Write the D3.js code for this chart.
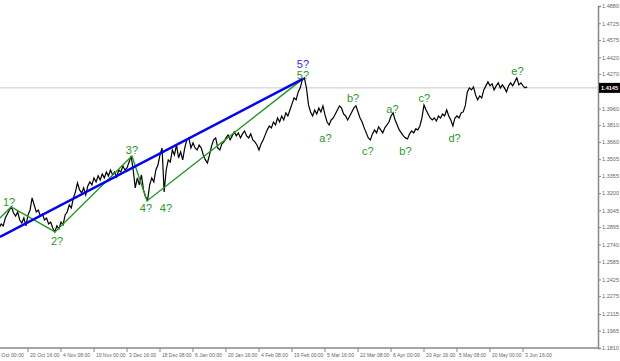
<!DOCTYPE html>
<html>
<head>
<meta charset="utf-8">
<script src="https://cdn.jsdelivr.net/npm/d3@7"></script>
<style>
  body { margin: 0; background: #fff; }
  svg { display: block; }
</style>
</head>
<body>
<div id="chart"></div>
<script>
// Bar number of the first close (bars counted from the 6 Oct 00:00 tick)
const firstBar = 2;

// Closing prices, one per bar
const closes = [
  1.2888, 1.2923, 1.2906, 1.2977, 1.3013, 1.3049, 1.3076, 1.3022, 1.2995, 1.3031, 1.2959, 1.2932, 1.2977, 1.2906,
  1.3004, 1.3049, 1.3157, 1.3094, 1.3031, 1.3049, 1.2995, 1.3013, 1.2959, 1.2977, 1.2923, 1.2941, 1.2888, 1.2852, 1.2906, 1.2879,
  1.2941, 1.2915, 1.3004, 1.3031, 1.3094, 1.3067, 1.3157, 1.3211, 1.3292, 1.3229, 1.3202, 1.3247, 1.3184, 1.3265, 1.3301, 1.3274,
  1.3337, 1.3301, 1.3355, 1.3319, 1.3372, 1.3337, 1.3390, 1.3355, 1.3408, 1.3364, 1.3390, 1.3346, 1.3408, 1.3390, 1.3444, 1.3408,
  1.3426, 1.3480, 1.3534, 1.3408, 1.3247, 1.3337, 1.3274, 1.3364, 1.3229, 1.3166, 1.3139, 1.3274, 1.3337, 1.3301, 1.3408, 1.3453,
  1.3543, 1.3606, 1.3211, 1.3408, 1.3498, 1.3480, 1.3588, 1.3543, 1.3633, 1.3516, 1.3570, 1.3498, 1.3606, 1.3678, 1.3696, 1.3606,
  1.3651, 1.3606, 1.3588, 1.3633, 1.3606, 1.3543, 1.3498, 1.3471, 1.3543, 1.3624, 1.3678, 1.3696, 1.3606, 1.3588, 1.3642, 1.3660,
  1.3696, 1.3723, 1.3678, 1.3714, 1.3750, 1.3714, 1.3741, 1.3696, 1.3732, 1.3759, 1.3714, 1.3696, 1.3732, 1.3678, 1.3660, 1.3633,
  1.3588, 1.3642, 1.3678, 1.3723, 1.3768, 1.3803, 1.3786, 1.3839, 1.3812, 1.3875, 1.3839, 1.3893, 1.3857, 1.3920, 1.3893, 1.3947,
  1.4001, 1.4055, 1.4037, 1.4109, 1.4145, 1.4217, 1.4235, 1.4145, 1.3992, 1.3929, 1.3893, 1.3947, 1.3911, 1.3965, 1.3929, 1.3983,
  1.3902, 1.3839, 1.3812, 1.3857, 1.3875, 1.3911, 1.3947, 1.3983, 1.3965, 1.3911, 1.3893, 1.3857, 1.3893, 1.3929, 1.3965, 1.3983,
  1.3929, 1.3875, 1.3839, 1.3786, 1.3741, 1.3696, 1.3678, 1.3732, 1.3768, 1.3741, 1.3795, 1.3768, 1.3741, 1.3786, 1.3812, 1.3839,
  1.3893, 1.3920, 1.3857, 1.3812, 1.3768, 1.3741, 1.3714, 1.3696, 1.3687, 1.3732, 1.3759, 1.3741, 1.3777, 1.3768, 1.3803, 1.3875,
  1.3992, 1.3947, 1.3911, 1.3875, 1.3857, 1.3875, 1.3848, 1.3893, 1.3875, 1.3911, 1.3893, 1.3947, 1.3893, 1.3857, 1.3803, 1.3875,
  1.3893, 1.3875, 1.3920, 1.3929, 1.3983, 1.4109, 1.4145, 1.4127, 1.4154, 1.4082, 1.4037, 1.4073, 1.4055, 1.4127, 1.4163, 1.4199,
  1.4163, 1.4181, 1.4127, 1.4163, 1.4190, 1.4145, 1.4172, 1.4145, 1.4109, 1.4163, 1.4190, 1.4163, 1.4199, 1.4235, 1.4172, 1.4190,
  1.4163, 1.4145, 1.4154,
];

// Time axis
const tickBars = [0, 16, 32, 48, 64, 80, 96, 112, 128, 144, 160, 176, 192, 208, 224, 240, 256];
const tickLabels = ['6 Oct 00:00', '20 Oct 16:00', '4 Nov 08:00', '19 Nov 00:00', '3 Dec 16:00',
  '18 Dec 08:00', '6 Jan 00:00', '20 Jan 16:00', '4 Feb 08:00', '19 Feb 00:00', '5 Mar 16:00',
  '22 Mar 08:00', '6 Apr 00:00', '20 Apr 16:00', '5 May 08:00', '20 May 00:00', '3 Jun 16:00'];

// Price axis
const priceTicks = [1.4880, 1.4725, 1.4575, 1.4420, 1.4270, 1.3960, 1.3810, 1.3660, 1.3505,
  1.3355, 1.3200, 1.3045, 1.2895, 1.2740, 1.2585, 1.2425, 1.2275, 1.2115, 1.1965, 1.1810];
const lastPrice = 1.4145;

// Wave count lines
const greenBars = [2.4, 7.8, 29.1, 66.4, 73.7, 149.3];
const greenPrices = [1.2977, 1.3076, 1.2852, 1.3534, 1.3130, 1.4226];
const blueBars = [2.4, 149.3];
const bluePrices = [1.2807, 1.4226];

// Wave labels (anchored at bar / price)
const greenLabels = ['1?', '2?', '3?', '4?', '4?', '5?', 'a?', 'b?', 'c?', 'a?', 'b?', 'c?', 'd?', 'e?'];
const greenLabelBars = [6.8, 30.1, 66.4, 73.2, 82.9, 149.3, 160.2, 173.6, 180.8, 192.7, 199.0, 208.2, 222.8, 253.3];
const greenLabelPrices = [1.3085, 1.2735, 1.3552, 1.3031, 1.3031, 1.4226, 1.3660, 1.4019, 1.3543, 1.3920, 1.3543, 1.4019, 1.3660, 1.4261];
const blueLabels = ['5?'];
const blueLabelBars = [149.3];
const blueLabelPrices = [1.4324];

const width = 620;
const height = 361;
const plot = { right: 598, bottom: 348 };

const svg = d3.select('#chart')
  .append('svg')
  .attr('width', width)
  .attr('height', height)
  .style('font-family', 'Liberation Sans, Arial, sans-serif');

const x = d3.scaleLinear()
  .domain([0, 256])
  .range([-5, 523]);

const y = d3.scaleLinear()
  .domain([1.1810, 1.4880])
  .range([plot.bottom, 6]);

// last price line
svg.append('line')
  .attr('x1', 0)
  .attr('x2', plot.right)
  .attr('y1', y(lastPrice))
  .attr('y2', y(lastPrice))
  .attr('stroke', '#c8c8c8')
  .attr('stroke-width', 1);

// price series
svg.append('path')
  .datum(closes)
  .attr('fill', 'none')
  .attr('stroke', '#000')
  .attr('stroke-width', 1.2)
  .attr('stroke-linejoin', 'miter')
  .attr('d', d3.line()
    .x((d, i) => x(firstBar + i))
    .y((d) => y(d)));

// wave lines
svg.append('path')
  .datum(d3.zip(greenBars, greenPrices))
  .attr('fill', 'none')
  .attr('stroke', '#1f9a1f')
  .attr('stroke-width', 1.4)
  .attr('d', d3.line()
    .x((d) => x(d[0]))
    .y((d) => y(d[1])));

svg.append('path')
  .datum(d3.zip(blueBars, bluePrices))
  .attr('fill', 'none')
  .attr('stroke', '#0000ff')
  .attr('stroke-width', 2.4)
  .attr('d', d3.line()
    .x((d) => x(d[0]))
    .y((d) => y(d[1])));

// wave labels
svg.append('g')
  .selectAll('text')
  .data(d3.zip(greenLabels, greenLabelBars, greenLabelPrices))
  .join('text')
  .attr('x', (d) => x(d[1]))
  .attr('y', (d) => y(d[2]))
  .attr('text-anchor', 'middle')
  .attr('font-size', 11)
  .attr('fill', '#1f9a1f')
  .text((d) => d[0]);

svg.append('g')
  .selectAll('text')
  .data(d3.zip(blueLabels, blueLabelBars, blueLabelPrices))
  .join('text')
  .attr('x', (d) => x(d[1]))
  .attr('y', (d) => y(d[2]))
  .attr('text-anchor', 'middle')
  .attr('font-size', 11)
  .attr('fill', '#2b2bff')
  .text((d) => d[0]);

// right price axis
const yAxis = svg.append('g')
  .attr('transform', `translate(${plot.right},0)`)
  .call(d3.axisRight(y)
    .tickValues(priceTicks)
    .tickSize(3)
    .tickPadding(1)
    .tickFormat(d3.format('.4f')));
yAxis.select('.domain').attr('stroke', '#888').attr('stroke-width', 1.5);
yAxis.selectAll('.tick line').attr('stroke', '#888');
yAxis.selectAll('.tick text')
  .attr('font-size', 5.5)
  .attr('fill', '#666')
  .attr('font-family', 'Liberation Sans, Arial, sans-serif')
  .attr('textLength', 17)
  .attr('lengthAdjust', 'spacingAndGlyphs');

// bottom time axis
const xAxis = svg.append('g')
  .attr('transform', `translate(0,${plot.bottom})`);
xAxis.append('line')
  .attr('x1', 0)
  .attr('x2', plot.right)
  .attr('stroke', '#888')
  .attr('stroke-width', 1.5);
const xt = xAxis.selectAll('g.tick')
  .data(d3.zip(tickBars, tickLabels))
  .join('g')
  .attr('class', 'tick')
  .attr('transform', (d) => `translate(${x(d[0])},0)`);
xt.append('line')
  .attr('y1', 0)
  .attr('y2', 4)
  .attr('stroke', '#888');
xt.append('text')
  .attr('x', 2)
  .attr('y', 8.5)
  .attr('font-size', 6)
  .attr('fill', '#666')
  .attr('textLength', (d) => d[1].length * 2.45)
  .attr('lengthAdjust', 'spacingAndGlyphs')
  .text((d) => d[1]);

// last price box
const box = svg.append('g')
  .attr('transform', `translate(${plot.right + 1},${y(lastPrice)})`);
box.append('rect')
  .attr('x', 0)
  .attr('y', -5)
  .attr('width', 21)
  .attr('height', 10)
  .attr('fill', '#000');
box.append('text')
  .attr('x', 2)
  .attr('y', 2.2)
  .attr('font-size', 5.5)
  .attr('font-weight', 'bold')
  .attr('fill', '#fff')
  .attr('textLength', 17)
  .attr('lengthAdjust', 'spacingAndGlyphs')
  .text(d3.format('.4f')(lastPrice));
</script>
</body>
</html>
